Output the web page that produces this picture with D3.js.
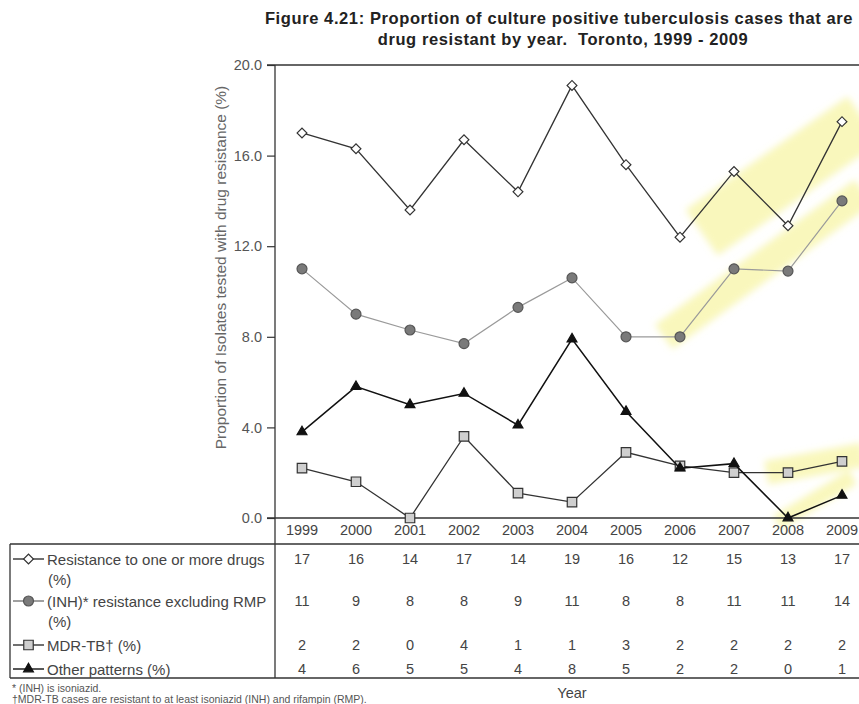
<!DOCTYPE html>
<html>
<head>
<meta charset="utf-8">
<script src="https://cdn.jsdelivr.net/npm/d3@7"></script>
<style>
  html, body { margin: 0; padding: 0; background: #fff; }
  svg { display: block; font-family: "Liberation Sans", Arial, sans-serif; }
</style>
</head>
<body>
<svg id="chart" width="859" height="704"></svg>
<script>
// Drug resistance among culture positive TB isolates, Toronto 1999-2009
const years = [1999, 2000, 2001, 2002, 2003, 2004, 2005, 2006, 2007, 2008, 2009];

const anyResistance = [17.0, 16.3, 13.6, 16.7, 14.4, 19.1, 15.6, 12.4, 15.3, 12.9, 17.5];
const inhOnly       = [11.0,  9.0,  8.3,  7.7,  9.3, 10.6,  8.0,  8.0, 11.0, 10.9, 14.0];
const mdrTB         = [ 2.2,  1.6,  0.0,  3.6,  1.1,  0.7,  2.9,  2.3,  2.0,  2.0,  2.5];
const otherPatterns = [ 3.8,  5.8,  5.0,  5.5,  4.1,  7.9,  4.7,  2.2,  2.4,  0.0,  1.0];

// Rounded values printed in the data table
const tableAny   = [17, 16, 14, 17, 14, 19, 16, 12, 15, 13, 17];
const tableInh   = [11,  9,  8,  8,  9, 11,  8,  8, 11, 11, 14];
const tableMdr   = [ 2,  2,  0,  4,  1,  1,  3,  2,  2,  2,  2];
const tableOther = [ 4,  6,  5,  5,  4,  8,  5,  2,  2,  0,  1];

const seriesLabels = [
  ["Resistance to one or more drugs", "(%)"],
  ["(INH)* resistance excluding RMP", "(%)"],
  ["MDR-TB\u2020 (%)"],
  ["Other patterns (%)"]
];
const yTicks = [0, 4, 8, 12, 16, 20];

// Highlighter strokes (year, value) across the later years
const highlights = [
  { pts: [[2005.7, 8.0], [2009.4, 14.4]], w: 30 },
  { pts: [[2006.4, 12.6], [2009.4, 17.6]], w: 56 },
  { pts: [[2007.6, 2.0], [2009.4, 2.8]], w: 24 },
  { pts: [[2007.8, -0.2], [2009.2, 1.8]], w: 16 }
];

const svg = d3.select("#chart");
const W = 859, H = 704;

const plotLeft = 275, step = 54;
const x = d3.scaleBand().domain(years).range([plotLeft, plotLeft + step * years.length]);
const cx = yr => x(yr) + x.bandwidth() / 2;
const xv = d3.scaleLinear().domain([1999, 2009]).range([cx(1999), cx(2009)]);
const y = d3.scaleLinear().domain([0, 20]).range([518, 65]);

const defs = svg.append("defs");
defs.append("filter").attr("id", "soft")
  .attr("x", "-20%").attr("y", "-20%").attr("width", "140%").attr("height", "140%")
  .append("feGaussianBlur").attr("stdDeviation", 3.5);

// Title
const title = svg.append("text")
  .attr("text-anchor", "middle").style("white-space", "pre")
  .attr("font-weight", "bold").attr("font-size", 16.5).attr("letter-spacing", 0.6)
  .attr("fill", "#222");
title.append("tspan").attr("x", 559).attr("y", 24)
  .text("Figure 4.21: Proportion of culture positive tuberculosis cases that are");
title.append("tspan").attr("x", 563).attr("y", 45)
  .text("drug resistant by year.  Toronto, 1999 - 2009");

// Highlighter marks
svg.append("g").attr("filter", "url(#soft)")
  .selectAll("line").data(highlights).join("line")
  .attr("x1", d => xv(d.pts[0][0])).attr("y1", d => y(d.pts[0][1]))
  .attr("x2", d => xv(d.pts[1][0])).attr("y2", d => y(d.pts[1][1]))
  .attr("stroke", "#f4f07a").attr("stroke-opacity", 0.5)
  .attr("stroke-width", d => d.w).attr("stroke-linecap", "butt");

// Y axis
const yAxis = svg.append("g").attr("transform", `translate(${plotLeft},0)`)
  .call(d3.axisLeft(y).tickValues(yTicks).tickFormat(d3.format(".1f")).tickSize(8).tickPadding(5));
yAxis.select(".domain").remove();
yAxis.selectAll(".tick line").attr("stroke", "#333").attr("stroke-width", 1.2);
yAxis.selectAll(".tick text").attr("font-size", 14.5).attr("fill", "#555")
  .attr("font-family", "Liberation Sans, Arial, sans-serif");

svg.append("text")
  .attr("transform", `translate(226,${(y(0) + y(20)) / 2 - 24}) rotate(-90)`)
  .attr("text-anchor", "middle").attr("font-size", 15.5).attr("fill", "#666")
  .text("Proportion of Isolates tested with drug resistance (%)");

// Frame and table rules
const tableTop = 544, tableBottom = 678, tableLeft = 10;
const rule = (x1, y1, x2, y2, w) => svg.append("line")
  .attr("x1", x1).attr("y1", y1).attr("x2", x2).attr("y2", y2)
  .attr("stroke", "#333").attr("stroke-width", w || 1.3);
rule(plotLeft - 8, y(20), W, y(20));
rule(plotLeft - 8, y(0), W, y(0));
rule(plotLeft, y(20), plotLeft, tableBottom);
rule(tableLeft, tableTop, W, tableTop, 1.6);
rule(tableLeft, tableBottom, W, tableBottom, 1.6);
rule(tableLeft, tableTop, tableLeft, tableBottom);

// Year labels under the plot
const xAxis = svg.append("g").attr("transform", `translate(0,${y(0)})`)
  .call(d3.axisBottom(x).tickSize(0).tickPadding(7));
xAxis.select(".domain").remove();
xAxis.selectAll(".tick text").attr("font-size", 14.5).attr("fill", "#444")
  .attr("font-family", "Liberation Sans, Arial, sans-serif");

// Series definitions
const series = [
  { values: anyResistance, table: tableAny, line: "#333", lw: 1.3, marker: "diamond", fill: "#fff", stroke: "#333" },
  { values: inhOnly, table: tableInh, line: "#9a9a9a", key: "#777", lw: 1.2, marker: "circle", fill: "#7a7a7a", stroke: "#555" },
  { values: mdrTB, table: tableMdr, line: "#333", lw: 1.3, marker: "square", fill: "#cfcfcf", stroke: "#333" },
  { values: otherPatterns, table: tableOther, line: "#111", lw: 1.5, marker: "triangle", fill: "#111", stroke: "#111" }
];
const symbolType = {
  diamond: d3.symbolSquare, circle: d3.symbolCircle,
  square: d3.symbolSquare, triangle: d3.symbolTriangle
};
const symbolSize = { diamond: 48, circle: 78, square: 90, triangle: 42 };

const lineGen = d3.line().x((d, i) => cx(years[i])).y(d => y(d));

function drawMarker(g, s, px, py) {
  const rot = s.marker === "diamond" ? " rotate(45)" : "";
  g.append("path")
    .attr("transform", `translate(${px},${py})${rot}`)
    .attr("d", d3.symbol().type(symbolType[s.marker]).size(symbolSize[s.marker])())
    .attr("fill", s.fill).attr("stroke", s.stroke).attr("stroke-width", 1.2);
}

// Draw order: bottom series first so the top lines sit above
[1, 0, 2, 3].forEach(k => {
  const s = series[k];
  const g = svg.append("g");
  g.append("path").datum(s.values)
    .attr("d", lineGen).attr("fill", "none")
    .attr("stroke", s.line).attr("stroke-width", s.lw);
  s.values.forEach((v, i) => drawMarker(g, s, cx(years[i]), y(v)));
});

// Table rows: legend key, label and rounded values
const rowY = [559, 601, 645, 669];
series.forEach((s, k) => {
  const g = svg.append("g");
  const ry = rowY[k];
  g.append("line").attr("x1", 13).attr("x2", 44).attr("y1", ry).attr("y2", ry)
    .attr("stroke", s.key || s.line).attr("stroke-width", 1.4);
  drawMarker(g, s, 28.5, ry);
  seriesLabels[k].forEach((t, j) => {
    g.append("text").attr("x", j === 0 ? 47 : 48).attr("y", ry + 5.5 + j * 20)
      .attr("font-size", 15).attr("fill", "#444").text(t);
  });
  g.selectAll("text.val").data(s.table).join("text")
    .attr("class", "val")
    .attr("x", (d, i) => cx(years[i])).attr("y", ry + 5)
    .attr("text-anchor", "middle").attr("font-size", 14.5).attr("fill", "#444")
    .text(d => d);
});

// Axis title and footnotes
svg.append("text").attr("x", 572).attr("y", 698).attr("text-anchor", "middle")
  .attr("font-size", 14.5).attr("fill", "#444").text("Year");
svg.append("text").attr("x", 12).attr("y", 692).attr("font-size", 10.5).attr("fill", "#555")
  .text("* (INH) is isoniazid.");
svg.append("text").attr("x", 12).attr("y", 703).attr("font-size", 10.5).attr("fill", "#555")
  .text("\u2020MDR-TB cases are resistant to at least isoniazid (INH) and rifampin (RMP).");
</script>
</body>
</html>
